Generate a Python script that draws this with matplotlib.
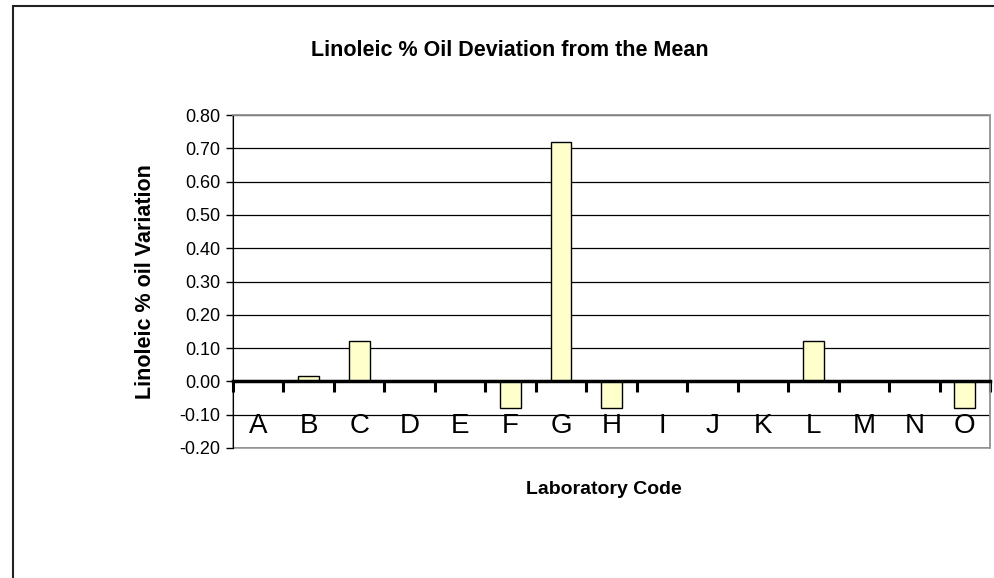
import matplotlib
matplotlib.use("Agg")
import matplotlib.pyplot as plt
from matplotlib.patches import Rectangle

labs = ["A", "B", "C", "D", "E", "F", "G", "H", "I", "J", "K", "L", "M", "N", "O"]
devs = [0.0, 0.015, 0.12, 0.0, 0.0, -0.08, 0.72, -0.08, 0.0, 0.0, 0.0, 0.12, 0.0, 0.0, -0.08]
yticks = [-0.2, -0.1, 0.0, 0.1, 0.2, 0.3, 0.4, 0.5, 0.6, 0.7, 0.8]

plt.rcParams['font.family'] = ['Arial', 'Liberation Sans', 'DejaVu Sans']

fig = plt.figure(figsize=(9.95, 5.78), dpi=100)
ax = fig.add_axes([233/995, 1 - 448/578, 757/995, 333/578])

# outer chart border (left and top visible)
fig.patches.append(Rectangle((13/995, -0.1), 2, 1.1 - 6/578, transform=fig.transFigure,
                             fill=False, edgecolor="#222222", lw=1.5))

xs = list(range(len(labs)))
for y in yticks:
    if y != 0:
        ax.axhline(y, color="black", lw=0.9, zorder=1)
ax.bar(xs, devs, width=0.41, color="#FFFFCC", edgecolor="black", lw=1, zorder=2)

ax.set_xlim(-0.5, len(labs) - 0.5)
ax.set_ylim(-0.2, 0.8)
ax.set_yticks(yticks)
ax.set_yticklabels(["%.2f" % v for v in yticks], fontsize=13)
ax.tick_params(axis="y", direction="out", length=5, width=1, pad=4)

# plot-area border in gray
for s in ["top", "right"]:
    ax.spines[s].set_color("#999999")
    ax.spines[s].set_linewidth(1.2)
ax.add_patch(Rectangle((0, 0), 1, 1, transform=ax.transAxes, fill=False,
                       edgecolor="#999999", lw=1.2, zorder=0, clip_on=False))
ax.spines["left"].set_color("black")

# category axis sits at zero
ax.spines["bottom"].set_position(("data", 0))
ax.spines["bottom"].set_linewidth(2.5)
ax.spines["bottom"].set_zorder(3)
ax.set_xticks([i - 0.5 for i in range(len(labs) + 1)])
ax.set_xticklabels([])
ax.set_xticks(xs, minor=True)
ax.set_xticklabels(labs, minor=True, fontsize=20)
ax.tick_params(axis="x", which="major", direction="out", length=8, width=2.2)
ax.tick_params(axis="x", which="minor", length=0, pad=23)

fig.text(510/995, 1 - 50/578, "Linoleic % Oil Deviation from the Mean", ha="center", va="center",
         fontsize=15.5, fontweight="bold")
fig.text(604/995, 1 - 490/578, "Laboratory Code", ha="center", va="center",
         fontsize=14, fontweight="bold")
fig.text(146/995, 1 - 282/578, "Linoleic % oil Variation", ha="center", va="center",
         rotation=90, fontsize=15.5, fontweight="bold")

fig.savefig("out.png", dpi=100)
